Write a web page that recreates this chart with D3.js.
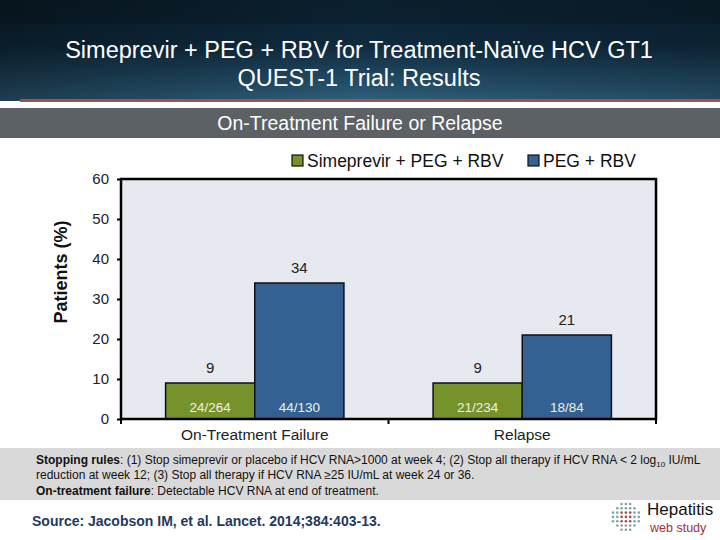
<!DOCTYPE html>
<html><head><meta charset="utf-8">
<script src="https://cdn.jsdelivr.net/npm/d3@7"></script>
<style>body{margin:0;padding:0;background:#fff;}svg{display:block;font-family:Arial,"Liberation Sans",sans-serif;}</style>
</head><body>
<script>
const categories = ["On-Treatment Failure", "Relapse"];
const seriesNames = ["Simeprevir + PEG + RBV", "PEG + RBV"];
const seriesColors = ["#76922a", "#336192"];
const values = [[9, 34], [9, 21]];            // per category: [sim, peg]
const counts = [["24/264", "44/130"], ["21/234", "18/84"]];
const yTicks = [0, 10, 20, 30, 40, 50, 60];

const W = 720, H = 540;
const svg = d3.select("body").append("svg").attr("width", W).attr("height", H);
const defs = svg.append("defs");
const hg = defs.append("linearGradient").attr("id","hg").attr("x1",0).attr("y1",0).attr("x2",0).attr("y2",1);
hg.append("stop").attr("offset","0%").attr("stop-color","#0d2233");
hg.append("stop").attr("offset","45%").attr("stop-color","#0f2b3f");
hg.append("stop").attr("offset","100%").attr("stop-color","#2e5f7c");
const hg2 = defs.append("linearGradient").attr("id","hg2").attr("x1",0).attr("y1",0).attr("x2",1).attr("y2",0);
hg2.append("stop").attr("offset","0%").attr("stop-color","#000").attr("stop-opacity",0.35);
hg2.append("stop").attr("offset","50%").attr("stop-color","#000").attr("stop-opacity",0);
hg2.append("stop").attr("offset","100%").attr("stop-color","#000").attr("stop-opacity",0.2);

// header
svg.append("rect").attr("x",0).attr("y",0).attr("width",W).attr("height",101).attr("fill","url(#hg)");
svg.append("rect").attr("x",0).attr("y",0).attr("width",W).attr("height",24).attr("fill","#0a1e2c").attr("opacity",0.6);
svg.append("rect").attr("x",0).attr("y",0).attr("width",W).attr("height",101).attr("fill","url(#hg2)");
svg.append("rect").attr("x",20).attr("y",99).attr("width",W-20).attr("height",3).attr("fill","#9c5252");
svg.append("text").attr("x",359).attr("y",58).attr("text-anchor","middle").attr("fill","#fff").attr("font-size",23.5).text("Simeprevir + PEG + RBV for Treatment-Naïve HCV GT1");
svg.append("text").attr("x",359).attr("y",86).attr("text-anchor","middle").attr("fill","#fff").attr("font-size",23.5).text("QUEST-1 Trial: Results");

// subtitle band
svg.append("rect").attr("x",0).attr("y",108).attr("width",W).attr("height",30).attr("fill","#5c6166");
svg.append("text").attr("x",360).attr("y",130).attr("text-anchor","middle").attr("fill","#fff").attr("font-size",19.5).text("On-Treatment Failure or Relapse");

// plot
const m = {l:121, r:656, t:179, b:419};
const x0 = d3.scaleBand().domain(categories).range([m.l, m.r]).paddingInner(0).paddingOuter(0);
const x1 = d3.scaleBand().domain([0,1]).range([0, x0.bandwidth()]).paddingInner(0).paddingOuter(0.5);
const y = d3.scaleLinear().domain([0,60]).range([m.b, m.t]);

svg.append("rect").attr("x",m.l).attr("y",m.t).attr("width",m.r-m.l).attr("height",m.b-m.t).attr("fill","#e6e9f0");

const g = svg.append("g");
categories.forEach((c,ci)=>{
  values[ci].forEach((v,si)=>{
    const bx = x0(c)+x1(si), bw = x1.bandwidth();
    g.append("rect").attr("x",bx).attr("y",y(v)).attr("width",bw).attr("height",y(0)-y(v))
      .attr("fill",seriesColors[si]).attr("stroke","#111").attr("stroke-width",1.5);
    g.append("text").attr("x",bx+bw/2).attr("y",y(v)-10).attr("text-anchor","middle").attr("font-size",15).attr("fill","#222").text(v);
    g.append("text").attr("x",bx+bw/2).attr("y",y(0)-7).attr("text-anchor","middle").attr("font-size",13.5).attr("fill","#eef2e0").text(counts[ci][si]);
  });
});

// frame
svg.append("rect").attr("x",m.l).attr("y",m.t).attr("width",m.r-m.l).attr("height",m.b-m.t).attr("fill","none").attr("stroke","#000").attr("stroke-width",2.5);

// y axis
const ya = svg.append("g").attr("transform",`translate(${m.l},0)`).call(d3.axisLeft(y).tickValues(yTicks).tickSize(4).tickPadding(8));
ya.select(".domain").remove();
ya.selectAll("line").attr("stroke","#000").attr("stroke-width",2);
ya.selectAll("text").attr("font-size",15).attr("fill","#222").attr("font-family","Arial,'Liberation Sans',sans-serif");

// x axis ticks at band boundaries
const xa = svg.append("g").attr("transform",`translate(0,${m.b})`);
[m.l, x0(categories[1]), m.r].forEach(px=>{
  xa.append("line").attr("x1",px).attr("x2",px).attr("y1",0).attr("y2",5).attr("stroke","#000").attr("stroke-width",2);
});
categories.forEach(c=>{
  xa.append("text").attr("x",x0(c)+x0.bandwidth()/2).attr("y",21).attr("text-anchor","middle").attr("font-size",15.5).attr("fill","#222").text(c);
});

// y label
svg.append("text").attr("transform","translate(67,272) rotate(-90)").attr("text-anchor","middle").attr("font-size",18).attr("font-weight","bold").attr("fill","#111").text("Patients (%)");

// legend
const lg = [{x:292, name:seriesNames[0], c:seriesColors[0]},{x:528, name:seriesNames[1], c:seriesColors[1]}];
lg.forEach(d=>{
  svg.append("rect").attr("x",d.x).attr("y",155).attr("width",11).attr("height",11).attr("fill",d.c).attr("stroke","#111").attr("stroke-width",1.2);
  svg.append("text").attr("x",d.x+15).attr("y",167).attr("font-size",17.5).attr("fill","#111").text(d.name);
});

// footer note box
svg.append("rect").attr("x",0).attr("y",448).attr("width",W).attr("height",52).attr("fill","#d9d9d9");
const ft = svg.append("g").attr("font-size",12).attr("fill","#111");
const t1 = ft.append("text").attr("x",36).attr("y",464);
t1.append("tspan").attr("font-weight","bold").text("Stopping rules");
t1.append("tspan").text(": (1) Stop simeprevir or placebo if HCV RNA>1000 at week 4; (2) Stop all therapy if HCV RNA < 2 log");
t1.append("tspan").attr("font-size",8).attr("dy",3).text("10");
t1.append("tspan").attr("dy",-3).text(" IU/mL");
ft.append("text").attr("x",36).attr("y",479).text("reduction at week 12; (3) Stop all therapy if HCV RNA ≥25 IU/mL at week 24 or 36.");
const t3 = ft.append("text").attr("x",36).attr("y",495);
t3.append("tspan").attr("font-weight","bold").text("On-treatment failure");
t3.append("tspan").text(": Detectable HCV RNA at end of treatment.");

// source
svg.append("text").attr("x",32).attr("y",526).attr("font-size",14).attr("fill","#1f3a5f").attr("font-weight","bold").text("Source: Jacobson IM, et al.  Lancet. 2014;384:403-13.");

// logo
const lgG = svg.append("g");
const dots = [];
for (let r=0;r<7;r++) for (let c=0;c<7;c++){
  const dx = c-3, dy = r-3;
  if (dx*dx+dy*dy < 11) dots.push({x:613+c*4.3, y:504+r*4.3, red: Math.abs(dx)<1.5 && Math.abs(dy)<1.5});
}
lgG.selectAll("circle").data(dots).enter().append("circle").attr("cx",d=>d.x).attr("cy",d=>d.y).attr("r",1.3).attr("fill",d=>d.red?"#b04a4a":"#7fa3a8");
svg.append("text").attr("x",647).attr("y",515).attr("font-size",17).attr("fill","#111").text("Hepatitis");
svg.append("text").attr("x",650).attr("y",532).attr("font-size",12.5).attr("fill","#a03030").text("web study");
</script>
</body></html>
